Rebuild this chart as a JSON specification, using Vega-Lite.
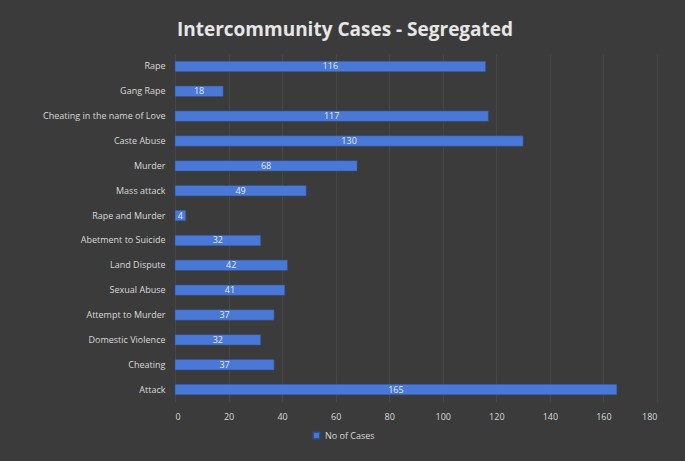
{
  "$schema": "https://vega.github.io/schema/vega-lite/v6.json",
  "autosize": {"type": "none"},
  "width": 482,
  "height": 348,
  "padding": {"left": 175, "top": 54, "right": 28, "bottom": 59},
  "background": "#3b3b3b",
  "view": {"stroke": null},
  "title": {
    "text": "Intercommunity Cases - Segregated",
    "anchor": "middle",
    "frame": "group",
    "dx": -71,
    "offset": 14,
    "font": "Open Sans",
    "fontSize": 19,
    "fontWeight": "bold",
    "color": "#e6e6e6"
  },
  "data": {
    "values": [
      {"category": "Rape", "value": 116},
      {"category": "Gang Rape", "value": 18},
      {"category": "Cheating in the name of Love", "value": 117},
      {"category": "Caste Abuse", "value": 130},
      {"category": "Murder", "value": 68},
      {"category": "Mass attack", "value": 49},
      {"category": "Rape and Murder", "value": 4},
      {"category": "Abetment to Suicide", "value": 32},
      {"category": "Land Dispute", "value": 42},
      {"category": "Sexual Abuse", "value": 41},
      {"category": "Attempt to Murder", "value": 37},
      {"category": "Domestic Violence", "value": 32},
      {"category": "Cheating", "value": 37},
      {"category": "Attack", "value": 165}
    ]
  },
  "encoding": {
    "y": {
      "field": "category",
      "type": "nominal",
      "sort": null,
      "scale": {"paddingInner": 0.58, "paddingOuter": 0.29},
      "axis": {
        "title": null,
        "ticks": false,
        "domain": false,
        "labelColor": "#d9d9d9",
        "labelFont": "Open Sans",
        "labelFontSize": 9,
        "labelPadding": 10
      }
    }
  },
  "layer": [
    {
      "mark": {"type": "bar", "stroke": "#2f4f8f", "strokeWidth": 0.5},
      "encoding": {
        "x": {
          "field": "value",
          "type": "quantitative",
          "scale": {"domain": [0, 180]},
          "axis": {
            "title": null,
            "values": [0, 20, 40, 60, 80, 100, 120, 140, 160, 180],
            "ticks": false,
            "domain": false,
            "grid": true,
            "gridColor": "#474747",
            "labelColor": "#d9d9d9",
            "labelFont": "Open Sans",
            "labelFontSize": 9,
            "labelPadding": 10
          }
        },
        "color": {
          "datum": "No of Cases",
          "type": "nominal",
          "scale": {"range": ["#4a78d6"]},
          "legend": {
            "title": null,
            "orient": "none",
            "legendX": 137,
            "legendY": 377,
            "symbolType": "square",
            "symbolSize": 40,
            "labelColor": "#d9d9d9",
            "labelFont": "Open Sans",
            "labelFontSize": 9
          }
        }
      }
    },
    {
      "mark": {"type": "text", "color": "#e8e8e8", "font": "Open Sans", "fontSize": 9, "align": "center", "baseline": "middle"},
      "encoding": {
        "x": {"field": "value", "type": "quantitative", "scale": {"domain": [0, 360]}, "axis": null},
        "text": {"field": "value", "type": "quantitative"}
      }
    }
  ],
  "resolve": {"scale": {"x": "independent"}, "axis": {"x": "independent"}}
}
